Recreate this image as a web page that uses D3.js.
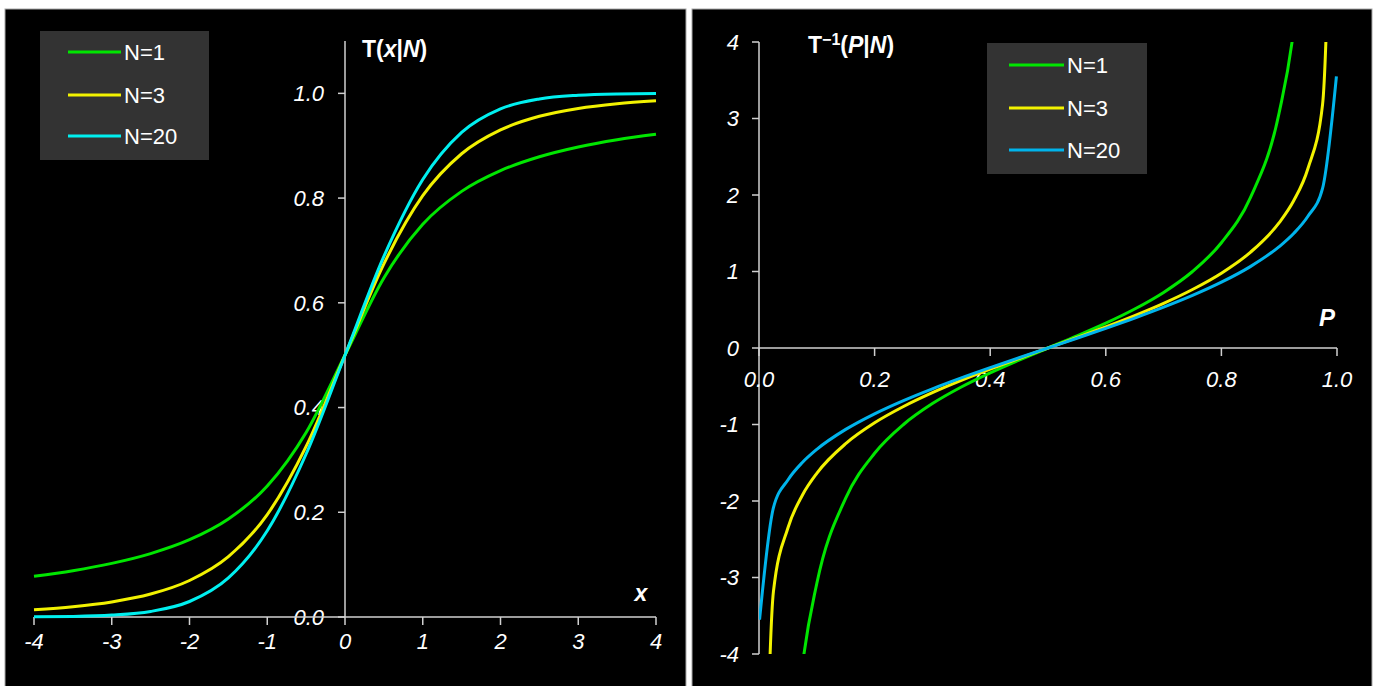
<!DOCTYPE html>
<html>
<head>
<meta charset="utf-8">
<script src="https://cdn.jsdelivr.net/npm/d3@7"></script>
<style>
  body { margin: 0; background: #fff; }
  text { font-family: "Liberation Sans", Arial, sans-serif; }
</style>
</head>
<body>
<svg id="chart" width="1381" height="686"></svg>
<script>
// Student's t distribution: CDF T(x|N) and its inverse T^-1(P|N)
const seriesNames = ["N=1", "N=3", "N=20"];

const xValues = [-4, -3.5, -3, -2.5, -2, -1.5, -1, -0.5, 0, 0.5, 1, 1.5, 2, 2.5, 3, 3.5, 4];
const cdfN1  = [0.0780, 0.0885, 0.1024, 0.1211, 0.1476, 0.1872, 0.2500, 0.3524, 0.5000, 0.6476, 0.7500, 0.8128, 0.8524, 0.8789, 0.8976, 0.9115, 0.9220];
const cdfN3  = [0.0140, 0.0197, 0.0288, 0.0438, 0.0697, 0.1153, 0.1955, 0.3257, 0.5000, 0.6743, 0.8045, 0.8847, 0.9303, 0.9562, 0.9712, 0.9803, 0.9860];
const cdfN20 = [0.0004, 0.0011, 0.0036, 0.0106, 0.0296, 0.0746, 0.1646, 0.3113, 0.5000, 0.6887, 0.8354, 0.9254, 0.9704, 0.9894, 0.9964, 0.9989, 0.9996];

const pValues = [0.001, 0.025, 0.05, 0.075, 0.1, 0.15, 0.2, 0.25, 0.3, 0.35, 0.4, 0.45, 0.5,
                 0.55, 0.6, 0.65, 0.7, 0.75, 0.8, 0.85, 0.9, 0.925, 0.95, 0.975, 0.999];
const invN1  = [-318.3, -12.71, -6.314, -4.165, -3.078, -1.963, -1.376, -1.000, -0.727, -0.510, -0.325, -0.158, 0,
                0.158, 0.325, 0.510, 0.727, 1.000, 1.376, 1.963, 3.078, 4.165, 6.314, 12.71, 318.3];
const invN3  = [-10.21, -3.182, -2.353, -1.924, -1.638, -1.250, -0.978, -0.765, -0.584, -0.424, -0.277, -0.137, 0,
                0.137, 0.277, 0.424, 0.584, 0.765, 0.978, 1.250, 1.638, 1.924, 2.353, 3.182, 10.21];
const invN20 = [-3.552, -2.086, -1.725, -1.497, -1.325, -1.064, -0.860, -0.687, -0.533, -0.391, -0.257, -0.127, 0,
                0.127, 0.257, 0.391, 0.533, 0.687, 0.860, 1.064, 1.325, 1.497, 1.725, 2.086, 3.552];

const xTicks = [-4, -3, -2, -1, 0, 1, 2, 3, 4];
const cdfTicks = [0, 0.2, 0.4, 0.6, 0.8, 1.0];
const pTicks = [0, 0.2, 0.4, 0.6, 0.8, 1.0];
const invTicks = [-4, -3, -2, -1, 0, 1, 2, 3, 4];

const leftColors  = ["#00e600", "#f2f200", "#00f0f0"];
const rightColors = ["#00e600", "#f2f200", "#00b4ec"];

const svg = d3.select("#chart");
const AXIS = "#d0d0d0";
const FS = 22;       // tick labels and legend
const FS_TITLE = 23; // axis titles

// panels
svg.append("rect").attr("x", 5).attr("y", 9).attr("width", 681).attr("height", 680)
  .attr("fill", "#000").attr("stroke", "#a8a8a8").attr("stroke-width", 1);
svg.append("rect").attr("x", 692).attr("y", 9).attr("width", 680).attr("height", 680)
  .attr("fill", "#000").attr("stroke", "#a8a8a8").attr("stroke-width", 1);

function italicLabel(g, x, y, txt, anchor) {
  return g.append("text").attr("x", x).attr("y", y).attr("dy", "0.36em")
    .attr("text-anchor", anchor).attr("fill", "#fff").attr("font-style", "italic")
    .attr("font-size", FS).text(txt);
}

function legend(g, x0, y0, w, h, lineX0, lineX1, rows, colors) {
  g.append("rect").attr("x", x0).attr("y", y0).attr("width", w).attr("height", h).attr("fill", "#333333");
  seriesNames.forEach((name, i) => {
    g.append("line").attr("x1", lineX0).attr("x2", lineX1).attr("y1", rows[i]).attr("y2", rows[i])
      .attr("stroke", colors[i]).attr("stroke-width", 3);
    g.append("text").attr("x", lineX1 + 3).attr("y", rows[i]).attr("dy", "0.36em")
      .attr("fill", "#fff").attr("font-size", FS).text(name);
  });
}

// ---------- left: T(x|N) ----------
{
  const g = svg.append("g");
  const x = d3.scaleLinear().domain([-4, 4]).range([34, 656]);
  const y = d3.scaleLinear().domain([0, 1.1]).range([617, 41]);

  // y axis (ticks to the left)
  g.append("line").attr("x1", x(0)).attr("x2", x(0)).attr("y1", y(1.1)).attr("y2", y(0))
    .attr("stroke", AXIS).attr("stroke-width", 1.5);
  cdfTicks.forEach(t => {
    g.append("line").attr("x1", x(0) - 7).attr("x2", x(0)).attr("y1", y(t)).attr("y2", y(t))
      .attr("stroke", AXIS).attr("stroke-width", 1.5);
    italicLabel(g, x(0) - 21, y(t), d3.format(".1f")(t), "end");
  });

  // x axis (ticks downward)
  g.append("line").attr("x1", x(-4)).attr("x2", x(4)).attr("y1", y(0)).attr("y2", y(0))
    .attr("stroke", AXIS).attr("stroke-width", 1.5);
  xTicks.forEach(t => {
    g.append("line").attr("x1", x(t)).attr("x2", x(t)).attr("y1", y(0)).attr("y2", y(0) + 8)
      .attr("stroke", AXIS).attr("stroke-width", 1.5);
    italicLabel(g, x(t), y(0) + 24, String(t), "middle");
  });

  const line = d3.line().x((d, i) => x(xValues[i])).y(d => y(d)).curve(d3.curveMonotoneX);
  [cdfN1, cdfN3, cdfN20].forEach((s, i) => {
    g.append("path").attr("d", line(s)).attr("fill", "none")
      .attr("stroke", leftColors[i]).attr("stroke-width", 3);
  });

  // titles
  const t = g.append("text").attr("x", 362).attr("y", 57).attr("fill", "#fff")
    .attr("font-size", FS_TITLE).attr("font-weight", "bold");
  t.append("tspan").text("T(");
  t.append("tspan").attr("font-style", "italic").text("x");
  t.append("tspan").text("|");
  t.append("tspan").attr("font-style", "italic").text("N");
  t.append("tspan").text(")");
  g.append("text").attr("x", 641).attr("y", 601).attr("text-anchor", "middle").attr("fill", "#fff")
    .attr("font-size", FS_TITLE).attr("font-weight", "bold").attr("font-style", "italic").text("x");

  legend(g, 40, 31, 169, 129, 68, 121, [52, 95, 136], leftColors);
}

// ---------- right: T^-1(P|N) ----------
{
  const g = svg.append("g");
  const x = d3.scaleLinear().domain([0, 1]).range([759, 1337]);
  const y = d3.scaleLinear().domain([-4, 4]).range([654, 42]);

  svg.append("defs").append("clipPath").attr("id", "plotR").append("rect")
    .attr("x", x(0)).attr("y", y(4)).attr("width", x(1) - x(0) + 4).attr("height", y(-4) - y(4));

  // y axis
  g.append("line").attr("x1", x(0)).attr("x2", x(0)).attr("y1", y(4)).attr("y2", y(-4))
    .attr("stroke", AXIS).attr("stroke-width", 1.5);
  invTicks.forEach(t => {
    g.append("line").attr("x1", x(0) - 7).attr("x2", x(0)).attr("y1", y(t)).attr("y2", y(t))
      .attr("stroke", AXIS).attr("stroke-width", 1.5);
    italicLabel(g, x(0) - 20, y(t), String(t), "end");
  });

  // x axis at 0
  g.append("line").attr("x1", x(0)).attr("x2", x(1)).attr("y1", y(0)).attr("y2", y(0))
    .attr("stroke", AXIS).attr("stroke-width", 1.5);
  pTicks.forEach(t => {
    g.append("line").attr("x1", x(t)).attr("x2", x(t)).attr("y1", y(0)).attr("y2", y(0) + 8)
      .attr("stroke", AXIS).attr("stroke-width", 1.5);
    italicLabel(g, x(t), y(0) + 31, d3.format(".1f")(t), "middle");
  });

  const line = d3.line().x((d, i) => x(pValues[i])).y(d => y(d)).curve(d3.curveMonotoneX);
  const plot = g.append("g").attr("clip-path", "url(#plotR)");
  [invN1, invN3, invN20].forEach((s, i) => {
    plot.append("path").attr("d", line(s)).attr("fill", "none")
      .attr("stroke", rightColors[i]).attr("stroke-width", 3);
  });

  const t = g.append("text").attr("x", 808).attr("y", 53).attr("fill", "#fff")
    .attr("font-size", FS_TITLE).attr("font-weight", "bold");
  t.append("tspan").text("T");
  t.append("tspan").attr("font-size", 16).attr("dy", -8).text("\u22121");
  t.append("tspan").attr("dy", 8).text("(");
  t.append("tspan").attr("font-style", "italic").text("P");
  t.append("tspan").text("|");
  t.append("tspan").attr("font-style", "italic").text("N");
  t.append("tspan").text(")");
  g.append("text").attr("x", 1327).attr("y", 326).attr("text-anchor", "middle").attr("fill", "#fff")
    .attr("font-size", 24).attr("font-weight", "bold").attr("font-style", "italic").text("P");

  legend(g, 987, 43, 160, 131, 1009, 1064, [65, 108, 150], rightColors);
}
</script>
</body>
</html>
